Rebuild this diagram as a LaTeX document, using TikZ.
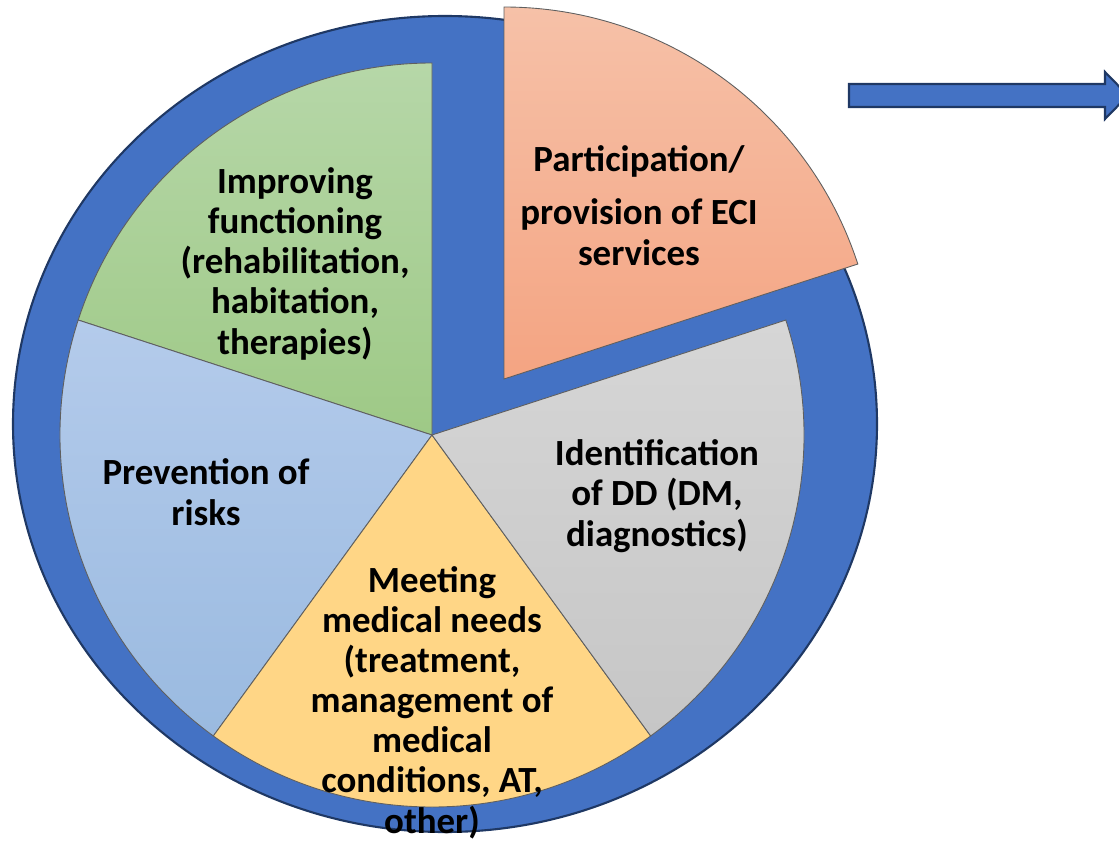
\documentclass[tikz,border=0pt]{standalone}
\usepackage{fontspec}
\setmainfont{Carlito}
\usetikzlibrary{positioning}

\definecolor{ringblue}{HTML}{4472C4}
\definecolor{ringedge}{HTML}{1F3864}
\definecolor{sliceedge}{HTML}{5F5F5F}

\begin{document}
\begin{tikzpicture}[x=0.02cm,y=0.02cm,
    slice/.style={draw=sliceedge,line width=0.5pt},
    label/.style={align=center,anchor=base,font=\bfseries\fontsize{21}{22.8}\selectfont}]
    \useasboundingbox (0,0) rectangle (1119,840);
    \clip (0,0) rectangle (1119,840);
    % outer ring
    \filldraw[fill=ringblue,draw=ringedge,line width=1.2pt] (445,416) ellipse (432 and 408);
    % the five slices, 72 degrees each
    \coordinate (hub) at (432,405);
    \coordinate (shifted) at (504,461);
    \draw[slice,top color={rgb,255:red,182;green,215;blue,168},bottom color={rgb,255:red,158;green,201;blue,134}]
        (hub) -- ++(90:372) arc[start angle=90,end angle=162,radius=372] -- cycle;
    \draw[slice,top color={rgb,255:red,180;green,203;blue,235},bottom color={rgb,255:red,154;green,186;blue,224}]
        (hub) -- ++(162:372) arc[start angle=162,end angle=234,radius=372] -- cycle;
    \draw[slice,fill={rgb,255:red,255;green,214;blue,134}]
        (hub) -- ++(234:372) arc[start angle=234,end angle=306,radius=372] -- cycle;
    \draw[slice,top color={rgb,255:red,214;green,214;blue,214},bottom color={rgb,255:red,198;green,198;blue,198}]
        (hub) -- ++(306:372) arc[start angle=306,end angle=378,radius=372] -- cycle;
    \draw[slice,top color={rgb,255:red,246;green,193;blue,168},bottom color={rgb,255:red,244;green,164;blue,130}]
        (shifted) -- ++(18:372) arc[start angle=18,end angle=90,radius=372] -- cycle;
    % texts (placed at the baseline of their last line)
    \node[label] (part) at (639,575) {Participation/\\[0.26cm]provision of ECI\\services};
    \node[label] (improve) at (295,486) {Improving\\functioning\\(rehabilitation,\\habitation,\\therapies)};
    \node[label] (prevent) at (206,315) {Prevention of\\risks};
    \node[label] (ident) at (657,294) {Identification\\of DD (DM,\\diagnostics)};
    \node[label] (meet) at (432,7) {Meeting\\medical needs\\(treatment,\\management of\\medical\\conditions, AT,\\other)};
    % arrow to the right
    \filldraw[fill=ringblue,draw=ringedge,line width=1.2pt,line join=miter]
        (849,733) -- (1105,733) -- (1105,721) -- (1128,744.5) -- (1105,768) -- (1105,756) -- (849,756) -- cycle;
\end{tikzpicture}
\end{document}
